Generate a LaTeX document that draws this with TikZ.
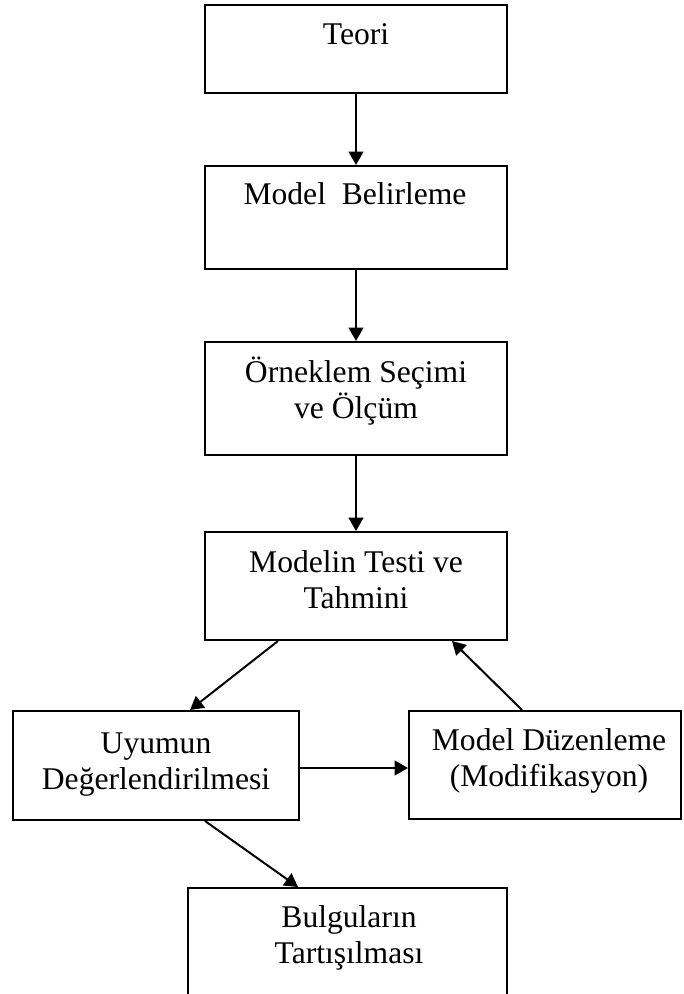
\documentclass[tikz,border=0pt]{standalone}
\usepackage{fontspec}
\setmainfont{Liberation Serif}
\usetikzlibrary{arrows.meta,calc}

\tikzset{
  box/.style={draw=black, line width=1.5pt, inner sep=0pt, fill=white},
  txt/.style={inner sep=0pt, anchor=base, font=\fontsize{23.7pt}{27pt}\selectfont},
  arr/.style={draw=black, line width=1.5pt, -{Triangle[length=10pt,width=11pt]}},
}
\newcommand{\twolines}[2]{\begin{tabular}[t]{@{}c@{}}#1\\#2\end{tabular}}

\begin{document}
\begin{tikzpicture}[x=0.75pt, y=-0.75pt]
  \useasboundingbox (0,0) rectangle (683,994);
  \clip (0,0) rectangle (683,994);

  % boxes of the main column
  \node[box, minimum width=226.5pt, minimum height=66pt]   (b1) at (356,49)    {};
  \node[box, minimum width=226.5pt, minimum height=77.25pt] (b2) at (356,217.5) {};
  \node[box, minimum width=226.5pt, minimum height=84.75pt] (b3) at (356,398.5) {};
  \node[box, minimum width=226.5pt, minimum height=81pt]   (b4) at (356,586)   {};
  % lower row
  \node[box, minimum width=214.5pt, minimum height=81.75pt] (b5) at (156,765.5) {};
  \node[box, minimum width=204pt,   minimum height=81pt]    (b6) at (545,765)   {};
  \node[box, minimum width=239.25pt, minimum height=87pt]   (b7) at (347.5,946) {};

  % labels
  \node[txt] (t1) at (356,45)  {Teori};
  \node[txt] (t2) at (355,205) {Model\ \ Belirleme};
  \node[txt] (t3) at (356,382) {\twolines{Örneklem Seçimi}{ve Ölçüm}};
  \node[txt] (t4) at (356,572) {\twolines{Modelin Testi ve}{Tahmini}};
  \node[txt] (t5) at (156,753) {\twolines{Uyumun}{Değerlendirilmesi}};
  \node[txt] (t6) at (549,750) {\twolines{Model Düzenleme}{(Modifikasyon)}};
  \node[txt] (t7) at (349,927) {\twolines{Bulguların}{Tartışılması}};

  % connectors
  \draw[arr] (b1) -- (b2);
  \draw[arr] (b2) -- (b3);
  \draw[arr] (b3) -- (b4);
  \draw[arr] ($(b4.south)+(-78,0)$) -- ($(b5.north)+(34,0)$);
  \draw[arr] ($(b6.north)+(-23,0)$) -- ($(b4.south)+(96,0)$);
  \draw[arr] ($(b5.east)+(0,2.5)$) -- ($(b6.west)+(0,3)$);
  \draw[arr] ($(b5.south)+(49,0)$) -- ($(b7.north)+(-49.5,0)$);
\end{tikzpicture}
\end{document}
